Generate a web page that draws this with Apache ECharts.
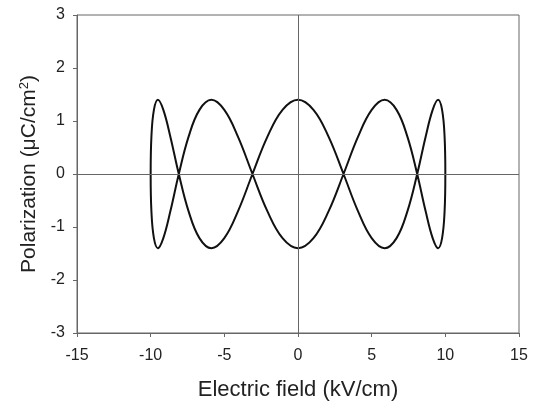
<!DOCTYPE html>
<html><head><meta charset="utf-8">
<script src="https://cdn.jsdelivr.net/npm/echarts@6/dist/echarts.min.js"></script>
<style>html,body{margin:0;padding:0;background:#fff}#c{width:536px;height:407px}</style>
</head><body><div id="c"></div>
<script>
// Electric field (kV/cm) values along the loop (starting at the right turning point)
var fieldValues = [10, 9.95, 9.78, 9.51, 9.14, 8.66, 8.09, 7.43, 6.69, 5.88, 5, 4.07, 3.09, 2.08, 1.05, 0,
  -1.05, -2.08, -3.09, -4.07, -5, -5.88, -6.69, -7.43, -8.09, -8.66, -9.14, -9.51, -9.78, -9.95, -10,
  -9.95, -9.78, -9.51, -9.14, -8.66, -8.09, -7.43, -6.69, -5.88, -5, -4.07, -3.09, -2.08, -1.05, 0,
  1.05, 2.08, 3.09, 4.07, 5, 5.88, 6.69, 7.43, 8.09, 8.66, 9.14, 9.51, 9.78, 9.95, 10];
// Polarization (uC/cm2) values along the loop
var polarizationValues = [0, -0.7, -1.21, -1.4, -1.21, -0.7, 0, 0.7, 1.21, 1.4, 1.21, 0.7, 0, -0.7, -1.21, -1.4,
  -1.21, -0.7, 0, 0.7, 1.21, 1.4, 1.21, 0.7, 0, -0.7, -1.21, -1.4, -1.21, -0.7, 0,
  0.7, 1.21, 1.4, 1.21, 0.7, 0, -0.7, -1.21, -1.4, -1.21, -0.7, 0, 0.7, 1.21, 1.4,
  1.21, 0.7, 0, -0.7, -1.21, -1.4, -1.21, -0.7, 0, 0.7, 1.21, 1.4, 1.21, 0.7, 0];
var xTicks = [-15, -10, -5, 0, 5, 10, 15];
var yTicks = [-3, -2, -1, 0, 1, 2, 3];

var pts = fieldValues.map(function (x, i) { return [x, polarizationValues[i]]; });
var axisColor = '#666';
var font = 'Liberation Sans';
var chart = echarts.init(document.getElementById('c'), null, {renderer: 'canvas'});
chart.setOption({
  animation: false,
  grid: {left: 77, top: 15, right: 17, bottom: 74, show: true, borderColor: axisColor, borderWidth: 1},
  xAxis: {
    type: 'value', min: xTicks[0], max: xTicks[xTicks.length - 1], interval: 5,
    name: 'Electric field (kV/cm)', nameLocation: 'middle', nameGap: 46,
    nameTextStyle: {fontFamily: font, fontSize: 22, color: '#222'},
    axisLine: {onZero: false, lineStyle: {color: axisColor}},
    axisTick: {show: true, inside: false, length: 4, lineStyle: {color: axisColor}},
    axisLabel: {fontFamily: font, fontSize: 16, color: '#222', margin: 15},
    splitLine: {show: false}
  },
  yAxis: {
    type: 'value', min: yTicks[0], max: yTicks[yTicks.length - 1], interval: 1,
    name: 'Polarization (\u03bcC/cm{sup|2})', nameLocation: 'middle', nameGap: 35,
    nameTextStyle: {
      fontFamily: font, fontSize: 21, color: '#222',
      rich: {sup: {fontFamily: font, fontSize: 13, color: '#222', verticalAlign: 'top', padding: [0, 0, 10, 0]}}
    },
    axisLine: {onZero: false, lineStyle: {color: axisColor}},
    axisTick: {show: true, inside: false, length: 4, lineStyle: {color: axisColor}},
    axisLabel: {fontFamily: font, fontSize: 16, color: '#222', margin: 12},
    splitLine: {show: false}
  },
  series: [{
    type: 'line', data: pts, showSymbol: false, smooth: 0.4,
    lineStyle: {color: '#111', width: 2},
    markLine: {
      silent: true, symbol: 'none', label: {show: false},
      lineStyle: {color: axisColor, width: 1, type: 'solid'},
      data: [{xAxis: 0}, {yAxis: 0}]
    }
  }]
});
</script></body></html>
